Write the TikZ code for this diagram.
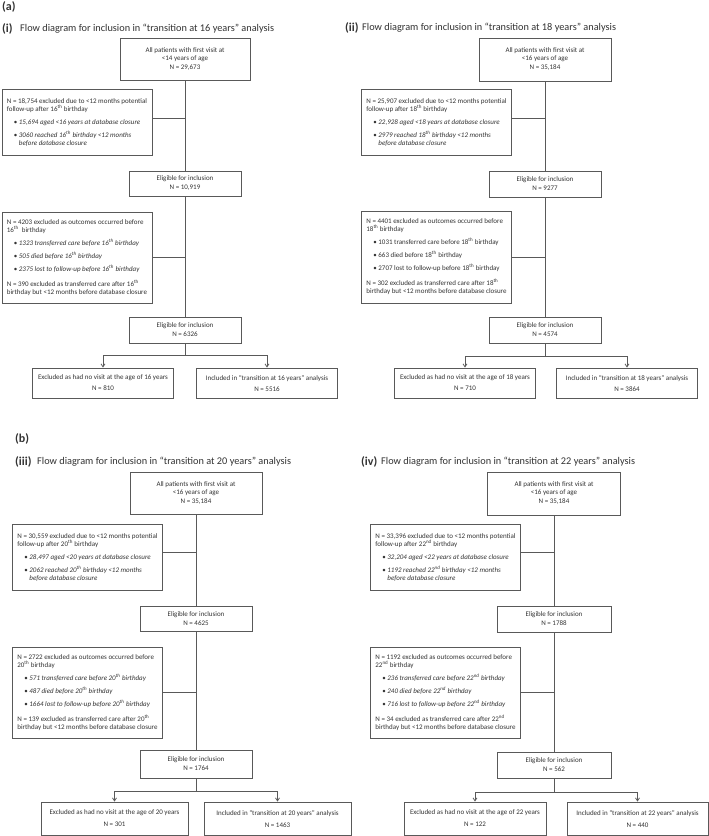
\documentclass[tikz,border=0pt]{standalone}
\usepackage{fontspec}
\setmainfont{Carlito}
\usetikzlibrary{arrows.meta,positioning}
\definecolor{boxline}{gray}{0.35}
\definecolor{boxtext}{gray}{0.2}
\newcommand{\flowfont}{\fontsize{7}{8}\selectfont}
\newcommand{\supth}{\textsuperscript{th}}
\newcommand{\supnd}{\textsuperscript{nd}}
\newcommand{\bitem}[1]{\hspace*{7pt}\makebox[5pt][l]{\textbullet}#1}
\newcommand{\contline}[1]{\hspace*{12pt}#1}
\tikzset{
  flowbox/.style={draw=boxline, line width=0.8pt, align=center, font=\flowfont, text=boxtext, inner sep=2pt},
  exclbox/.style={flowbox, align=left, minimum width=150pt},
  link/.style={draw=boxline, line width=0.8pt},
  arr/.style={link, -{Straight Barb[length=3pt,width=4pt]}},
  paneltag/.style={anchor=west, inner sep=0pt, font=\bfseries\fontsize{12}{14}\selectfont, text=boxtext},
  paneltitle/.style={anchor=west, inner sep=0pt, font=\fontsize{10.3}{12}\selectfont, text=boxtext}
}
\begin{document}
\begin{tikzpicture}[x=1pt,y=-1pt]
        \fill[white] (0,0) rectangle (709,836);
        \useasboundingbox (0,0) rectangle (709,836);
        % Panel labels and titles
        \node[paneltag] (tagA) at (2,7) {(a)};
        \node[paneltag] (tagB) at (15,439) {(b)};
        \node[paneltag] (tag1) at (2,29) {(i)};
        \node[paneltitle] (title1) at (20,29) {Flow diagram for inclusion in “transition at 16 years” analysis};
        \node[paneltag] (tag2) at (345,28) {(ii)};
        \node[paneltitle] (title2) at (362,28) {Flow diagram for inclusion in “transition at 18 years” analysis};
        \node[paneltag] (tag3) at (15,462) {(iii)};
        \node[paneltitle] (title3) at (37,462) {Flow diagram for inclusion in “transition at 20 years” analysis};
        \node[paneltag] (tag4) at (361,462) {(iv)};
        \node[paneltitle] (title4) at (381,462) {Flow diagram for inclusion in “transition at 22 years” analysis};
        %Transition at 16 years
        \begin{scope}[shift={(185,38)}]
        \node[flowbox, minimum width=130pt, minimum height=42pt] (all1) at (0,21) {All patients with first visit at\\ <14 years of age\\[1pt] N = 29,673};
        \node[exclbox, minimum height=66pt] (exA1) at (-108,84) {N = 18,754 excluded due to <12 months potential\\ follow-up after 16\supth{} birthday\\[5pt] \bitem{\textit{15,694 aged <16 years at database closure}}\\[5pt] \bitem{\textit{3060 reached 16\supth{} birthday <12 months}}\\ \contline{\textit{before database closure}}};
        \node[flowbox, minimum width=112pt, minimum height=25pt] (elig1) at (0,145.5) {Eligible for inclusion\\[1pt] N = 10,919};
        \node[exclbox, minimum height=91pt] (exB1) at (-108,219.5) {N = 4203 excluded as outcomes occurred before\\ 16\supth{}\ \ birthday\\[5pt] \bitem{\textit{1323 transferred care before 16\supth{} birthday}}\\[5pt] \bitem{\textit{505 died before 16\supth{} birthday}}\\[5pt] \bitem{\textit{2375 lost to follow-up before 16\supth{} birthday}}\\[7pt] N = 390 excluded as transferred care after 16\supth\\ birthday but <12 months before database closure};
        \node[flowbox, minimum width=112pt, minimum height=26pt] (final1) at (0,292) {Eligible for inclusion\\[1pt] N = 6326};
        \node[flowbox, minimum width=141pt, minimum height=30pt] (noVisit1) at (-82,345) {Excluded as had no visit at the age of 16 years\\[3pt] N = 810};
        \node[flowbox, minimum width=141pt, minimum height=30pt] (incl1) at (82,345) {Included in “transition at 16 years” analysis\\[3pt] N = 5516};
        \coordinate (jA1) at ([yshift=4pt]exA1.east);
        \coordinate (split1) at (0,317.5);
        \draw[link] (all1) -- (elig1);
        \draw[link] (jA1) -- (jA1 -| all1.south);
        \draw[link] (elig1) -- (final1);
        \draw[link] (exB1.east) -- (exB1.east -| elig1.south);
        \draw[link] (final1) -- (split1);
        \draw[arr] (split1) -| (noVisit1.north);
        \draw[arr] (split1) -| (incl1.north);
        \end{scope}
        %Transition at 18 years
        \begin{scope}[shift={(545,38)}]
        \node[flowbox, minimum width=132pt, minimum height=43pt] (all2) at (0,21.5) {All patients with first visit at\\ <16 years of age\\[1pt] N = 35,184};
        \node[exclbox, minimum height=66pt] (exA2) at (-108.5,84) {N = 25,907 excluded due to <12 months potential\\ follow-up after 18\supth{} birthday\\[5pt] \bitem{\textit{22,928 aged <18 years at database closure}}\\[5pt] \bitem{\textit{2979 reached 18\supth{} birthday <12 months}}\\ \contline{\textit{before database closure}}};
        \node[flowbox, minimum width=112pt, minimum height=26pt] (elig2) at (0,146) {Eligible for inclusion\\[1pt] N = 9277};
        \node[exclbox, minimum height=92pt] (exB2) at (-108.5,219) {N = 4401 excluded as outcomes occurred before\\ 18\supth{} birthday\\[5pt] \bitem{1031 transferred care before 18\supth{} birthday}\\[5pt] \bitem{663 died before 18\supth{} birthday}\\[5pt] \bitem{2707 lost to follow-up before 18\supth{} birthday}\\[7pt] N = 302 excluded as transferred care after 18\supth\\ birthday but <12 months before database closure};
        \node[flowbox, minimum width=112pt, minimum height=26pt] (final2) at (0,292) {Eligible for inclusion\\[1pt] N = 4574};
        \node[flowbox, minimum width=141pt, minimum height=30pt] (noVisit2) at (-80,345) {Excluded as had no visit at the age of 18 years\\[3pt] N = 710};
        \node[flowbox, minimum width=141pt, minimum height=30pt] (incl2) at (82,345) {Included in “transition at 18 years” analysis\\[3pt] N = 3864};
        \coordinate (jA2) at ([yshift=4pt]exA2.east);
        \coordinate (split2) at (0,318);
        \draw[link] (all2) -- (elig2);
        \draw[link] (jA2) -- (jA2 -| all2.south);
        \draw[link] (elig2) -- (final2);
        \draw[link] (exB2.east) -- (exB2.east -| elig2.south);
        \draw[link] (final2) -- (split2);
        \draw[arr] (split2) -| (noVisit2.north);
        \draw[arr] (split2) -| (incl2.north);
        \end{scope}
        %Transition at 20 years
        \begin{scope}[shift={(196,472)}]
        \node[flowbox, minimum width=132pt, minimum height=42pt] (all3) at (0,21) {All patients with first visit at\\ <16 years of age\\[1pt] N = 35,184};
        \node[exclbox, minimum height=66pt] (exA3) at (-108.5,85) {N = 30,559 excluded due to <12 months potential\\ follow-up after 20\supth{} birthday\\[5pt] \bitem{\textit{28,497 aged <20 years at database closure}}\\[5pt] \bitem{\textit{2062 reached 20\supth{} birthday <12 months}}\\ \contline{\textit{before database closure}}};
        \node[flowbox, minimum width=112pt, minimum height=25pt] (elig3) at (0,146.5) {Eligible for inclusion\\[1pt] N = 4625};
        \node[exclbox, minimum height=91pt] (exB3) at (-108.5,220.5) {N = 2722 excluded as outcomes occurred before\\ 20\supth{} birthday\\[5pt] \bitem{\textit{571 transferred care before 20\supth{} birthday}}\\[5pt] \bitem{\textit{487 died before 20\supth{} birthday}}\\[5pt] \bitem{\textit{1664 lost to follow-up before 20\supth{} birthday}}\\[7pt] N = 139 excluded as transferred care after 20\supth\\ birthday but <12 months before database closure};
        \node[flowbox, minimum width=112pt, minimum height=28pt] (final3) at (0,292) {Eligible for inclusion\\[1pt] N = 1764};
        \node[flowbox, minimum width=147pt, minimum height=33pt] (noVisit3) at (-81.5,346.5) {Excluded as had no visit at the age of 20 years\\[4pt] N = 301};
        \node[flowbox, minimum width=147pt, minimum height=33pt] (incl3) at (81.5,346.5) {Included in “transition at 20 years” analysis\\[4pt] N = 1463};
        \coordinate (jA3) at ([yshift=5pt]exA3.east);
        \coordinate (split3) at (0,319);
        \draw[link] (all3) -- (elig3);
        \draw[link] (jA3) -- (jA3 -| all3.south);
        \draw[link] (elig3) -- (final3);
        \draw[link] (exB3.east) -- (exB3.east -| elig3.south);
        \draw[link] (final3) -- (split3);
        \draw[arr] (split3) -| (noVisit3.north);
        \draw[arr] (split3) -| (incl3.north);
        \end{scope}
        %Transition at 22 years
        \begin{scope}[shift={(554,472)}]
        \node[flowbox, minimum width=133pt, minimum height=43pt] (all4) at (0,21.5) {All patients with first visit at\\ <16 years of age\\[1pt] N = 35,184};
        \node[exclbox, minimum height=66pt] (exA4) at (-108.5,85) {N = 33,396 excluded due to <12 months potential\\ follow-up after 22\supnd{} birthday\\[5pt] \bitem{\textit{32,204 aged <22 years at database closure}}\\[5pt] \bitem{\textit{1192 reached 22\supnd{} birthday <12 months}}\\ \contline{\textit{before database closure}}};
        \node[flowbox, minimum width=114pt, minimum height=26pt] (elig4) at (0,147) {Eligible for inclusion\\[1pt] N = 1788};
        \node[exclbox, minimum height=91pt] (exB4) at (-108.5,220.5) {N = 1192 excluded as outcomes occurred before\\ 22\supnd{} birthday\\[5pt] \bitem{\textit{236 transferred care before 22\supnd{} birthday}}\\[5pt] \bitem{\textit{240 died before 22\supnd{} birthday}}\\[5pt] \bitem{\textit{716 lost to follow-up before 22\supnd{} birthday}}\\[7pt] N = 34 excluded as transferred care after 22\supnd\\ birthday but <12 months before database closure};
        \node[flowbox, minimum width=114pt, minimum height=26pt] (final4) at (0,293) {Eligible for inclusion\\[1pt] N = 562};
        \node[flowbox, minimum width=142pt, minimum height=33pt] (noVisit4) at (-79,346.5) {Excluded as had no visit at the age of 22 years\\[4pt] N = 122};
        \node[flowbox, minimum width=141pt, minimum height=33pt] (incl4) at (83.5,346.5) {Included in “transition at 22 years” analysis\\[4pt] N = 440};
        \coordinate (jA4) at ([yshift=5pt]exA4.east);
        \coordinate (split4) at (0,320);
        \draw[link] (all4) -- (elig4);
        \draw[link] (jA4) -- (jA4 -| all4.south);
        \draw[link] (elig4) -- (final4);
        \draw[link] (exB4.east) -- (exB4.east -| elig4.south);
        \draw[link] (final4) -- (split4);
        \draw[arr] (split4) -| (noVisit4.north);
        \draw[arr] (split4) -| (incl4.north);
        \end{scope}
\end{tikzpicture}
\end{document}
